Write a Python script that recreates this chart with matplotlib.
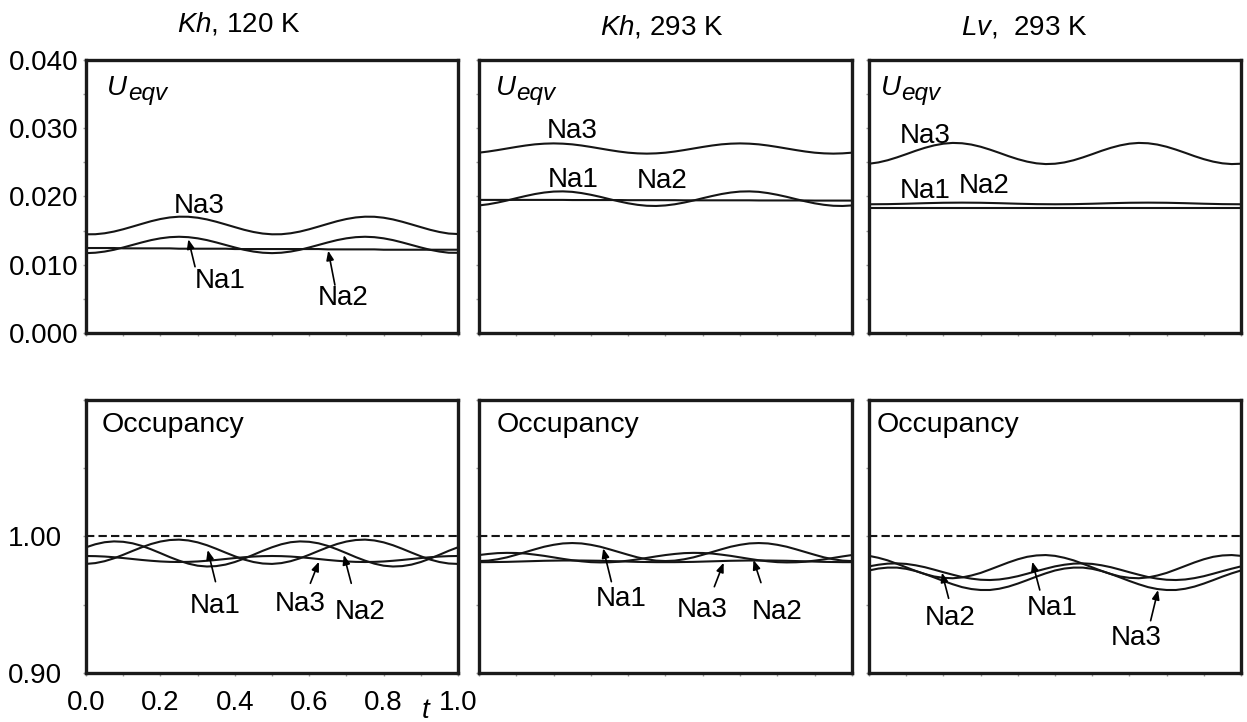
import matplotlib.pyplot as plt

plt.rcParams["font.family"] = ["Liberation Sans", "DejaVu Sans"]
plt.rcParams["mathtext.fontset"] = "custom"
plt.rcParams["mathtext.it"] = "Liberation Sans:italic"
plt.rcParams["mathtext.rm"] = "Liberation Sans"

# reduced time t over one cycle
T = [0.000, 0.025, 0.050, 0.075, 0.100, 0.125, 0.150, 0.175, 0.200, 0.225,
     0.250, 0.275, 0.300, 0.325, 0.350, 0.375, 0.400, 0.425, 0.450, 0.475,
     0.500, 0.525, 0.550, 0.575, 0.600, 0.625, 0.650, 0.675, 0.700, 0.725,
     0.750, 0.775, 0.800, 0.825, 0.850, 0.875, 0.900, 0.925, 0.950, 0.975, 1.000]

# U_eqv, Kh 120 K
KH120_U_NA1 = [0.01170, 0.01176, 0.01193, 0.01219, 0.01253, 0.01290, 0.01327, 0.01361, 0.01387, 0.01404,
               0.01410, 0.01404, 0.01387, 0.01361, 0.01327, 0.01290, 0.01253, 0.01219, 0.01193, 0.01176,
               0.01170, 0.01176, 0.01193, 0.01219, 0.01253, 0.01290, 0.01327, 0.01361, 0.01387, 0.01404,
               0.01410, 0.01404, 0.01387, 0.01361, 0.01327, 0.01290, 0.01253, 0.01219, 0.01193, 0.01176, 0.01175]
KH120_U_NA2 = [0.01245, 0.01245, 0.01245, 0.01245, 0.01240, 0.01240, 0.01240, 0.01240, 0.01240, 0.01240,
               0.01235, 0.01235, 0.01235, 0.01235, 0.01235, 0.01235, 0.01230, 0.01230, 0.01230, 0.01230,
               0.01230, 0.01230, 0.01230, 0.01230, 0.01230, 0.01230, 0.01225, 0.01225, 0.01225, 0.01225,
               0.01225, 0.01225, 0.01220, 0.01220, 0.01220, 0.01220, 0.01220, 0.01220, 0.01220, 0.01220, 0.01220]
KH120_U_NA3 = [0.01446, 0.01447, 0.01461, 0.01486, 0.01520, 0.01559, 0.01599, 0.01638, 0.01670, 0.01693,
               0.01704, 0.01703, 0.01689, 0.01664, 0.01630, 0.01591, 0.01551, 0.01512, 0.01480, 0.01457,
               0.01446, 0.01447, 0.01461, 0.01486, 0.01520, 0.01559, 0.01599, 0.01638, 0.01670, 0.01693,
               0.01704, 0.01703, 0.01689, 0.01664, 0.01630, 0.01591, 0.01551, 0.01512, 0.01480, 0.01457, 0.01450]

# U_eqv, Kh 293 K
KH293_U_NA1 = [0.01869, 0.01886, 0.01911, 0.01941, 0.01975, 0.02007, 0.02036, 0.02058, 0.02072, 0.02075,
               0.02068, 0.02050, 0.02025, 0.01995, 0.01961, 0.01929, 0.01900, 0.01878, 0.01864, 0.01861,
               0.01869, 0.01886, 0.01911, 0.01941, 0.01975, 0.02007, 0.02036, 0.02058, 0.02072, 0.02075,
               0.02068, 0.02050, 0.02025, 0.01995, 0.01961, 0.01929, 0.01900, 0.01878, 0.01864, 0.01861, 0.01869]
KH293_U_NA2 = [0.01950, 0.01950, 0.01950, 0.01950, 0.01950, 0.01950, 0.01950, 0.01950, 0.01950, 0.01950,
               0.01948, 0.01948, 0.01948, 0.01948, 0.01948, 0.01948, 0.01946, 0.01946, 0.01946, 0.01946,
               0.01946, 0.01946, 0.01944, 0.01944, 0.01944, 0.01944, 0.01944, 0.01944, 0.01944, 0.01944,
               0.01942, 0.01942, 0.01942, 0.01942, 0.01942, 0.01942, 0.01940, 0.01940, 0.01940, 0.01940, 0.01940]
KH293_U_NA3 = [0.02642, 0.02659, 0.02680, 0.02703, 0.02726, 0.02747, 0.02764, 0.02774, 0.02778, 0.02774,
               0.02764, 0.02747, 0.02726, 0.02703, 0.02680, 0.02659, 0.02642, 0.02632, 0.02628, 0.02632,
               0.02642, 0.02659, 0.02680, 0.02703, 0.02726, 0.02747, 0.02764, 0.02774, 0.02778, 0.02774,
               0.02764, 0.02747, 0.02726, 0.02703, 0.02680, 0.02659, 0.02642, 0.02632, 0.02628, 0.02632, 0.02642]

# U_eqv, Lv 293 K
LV293_U_NA1 = [0.01886, 0.01887, 0.01888, 0.01891, 0.01894, 0.01898, 0.01902, 0.01905, 0.01908, 0.01909,
               0.01910, 0.01909, 0.01908, 0.01905, 0.01902, 0.01898, 0.01894, 0.01891, 0.01888, 0.01887,
               0.01886, 0.01887, 0.01888, 0.01891, 0.01894, 0.01898, 0.01902, 0.01905, 0.01908, 0.01909,
               0.01910, 0.01909, 0.01908, 0.01905, 0.01902, 0.01898, 0.01894, 0.01891, 0.01888, 0.01887, 0.01886]
LV293_U_NA2 = [0.0183, 0.0183, 0.0183, 0.0183, 0.0183, 0.0183, 0.0183, 0.0183, 0.0183, 0.0183,
               0.0183, 0.0183, 0.0183, 0.0183, 0.0183, 0.0183, 0.0183, 0.0183, 0.0183, 0.0183,
               0.0183, 0.0183, 0.0183, 0.0183, 0.0183, 0.0183, 0.0183, 0.0183, 0.0183, 0.0183,
               0.0183, 0.0183, 0.0183, 0.0183, 0.0183, 0.0183, 0.0183, 0.0183, 0.0183, 0.0183, 0.0183]
LV293_U_NA3 = [0.02480, 0.02499, 0.02531, 0.02573, 0.02620, 0.02669, 0.02713, 0.02749, 0.02774, 0.02785,
               0.02780, 0.02761, 0.02729, 0.02687, 0.02640, 0.02591, 0.02547, 0.02511, 0.02486, 0.02475,
               0.02480, 0.02499, 0.02531, 0.02573, 0.02620, 0.02669, 0.02713, 0.02749, 0.02774, 0.02785,
               0.02780, 0.02761, 0.02729, 0.02687, 0.02640, 0.02591, 0.02547, 0.02511, 0.02486, 0.02475, 0.02480]

# occupancy, Kh 120 K
KH120_OCC_NA1 = [0.9799, 0.9805, 0.9819, 0.9840, 0.9866, 0.9894, 0.9921, 0.9945, 0.9963, 0.9974,
                 0.9977, 0.9971, 0.9957, 0.9936, 0.9910, 0.9882, 0.9855, 0.9831, 0.9813, 0.9802,
                 0.9799, 0.9805, 0.9819, 0.9840, 0.9866, 0.9894, 0.9921, 0.9945, 0.9963, 0.9974,
                 0.9977, 0.9971, 0.9957, 0.9936, 0.9910, 0.9882, 0.9855, 0.9831, 0.9813, 0.9802, 0.9799]
KH120_OCC_NA2 = [0.9921, 0.9943, 0.9958, 0.9964, 0.9961, 0.9950, 0.9931, 0.9906, 0.9878, 0.9849,
                 0.9823, 0.9801, 0.9786, 0.9780, 0.9783, 0.9794, 0.9813, 0.9838, 0.9866, 0.9895,
                 0.9921, 0.9943, 0.9958, 0.9964, 0.9961, 0.9950, 0.9931, 0.9906, 0.9878, 0.9849,
                 0.9823, 0.9801, 0.9786, 0.9780, 0.9783, 0.9794, 0.9813, 0.9838, 0.9866, 0.9895, 0.9921]
KH120_OCC_NA3 = [0.9857, 0.9856, 0.9853, 0.9848, 0.9842, 0.9835, 0.9828, 0.9822, 0.9817, 0.9814,
                 0.9813, 0.9814, 0.9817, 0.9822, 0.9828, 0.9835, 0.9842, 0.9848, 0.9853, 0.9856,
                 0.9857, 0.9856, 0.9853, 0.9848, 0.9842, 0.9835, 0.9828, 0.9822, 0.9817, 0.9814,
                 0.9813, 0.9814, 0.9817, 0.9822, 0.9828, 0.9835, 0.9842, 0.9848, 0.9853, 0.9856, 0.9857]

# occupancy, Kh 293 K
KH293_OCC_NA1 = [0.9820, 0.9823, 0.9833, 0.9847, 0.9866, 0.9886, 0.9906, 0.9925, 0.9939, 0.9949,
                 0.9952, 0.9949, 0.9939, 0.9925, 0.9906, 0.9886, 0.9866, 0.9847, 0.9833, 0.9823,
                 0.9820, 0.9823, 0.9833, 0.9847, 0.9866, 0.9886, 0.9906, 0.9925, 0.9939, 0.9949,
                 0.9952, 0.9949, 0.9939, 0.9925, 0.9906, 0.9886, 0.9866, 0.9847, 0.9833, 0.9823, 0.9820]
KH293_OCC_NA2 = [0.9864, 0.9872, 0.9878, 0.9880, 0.9879, 0.9875, 0.9867, 0.9858, 0.9847, 0.9836,
                 0.9826, 0.9818, 0.9812, 0.9810, 0.9811, 0.9815, 0.9823, 0.9832, 0.9843, 0.9854,
                 0.9864, 0.9872, 0.9878, 0.9880, 0.9879, 0.9875, 0.9867, 0.9858, 0.9847, 0.9836,
                 0.9826, 0.9818, 0.9812, 0.9810, 0.9811, 0.9815, 0.9823, 0.9832, 0.9843, 0.9854, 0.9864]
KH293_OCC_NA3 = [0.9812, 0.9812, 0.9813, 0.9814, 0.9816, 0.9818, 0.9820, 0.9822, 0.9823, 0.9824,
                 0.9824, 0.9824, 0.9823, 0.9822, 0.9820, 0.9818, 0.9816, 0.9814, 0.9813, 0.9812,
                 0.9812, 0.9812, 0.9813, 0.9814, 0.9816, 0.9818, 0.9820, 0.9822, 0.9823, 0.9824,
                 0.9824, 0.9824, 0.9823, 0.9822, 0.9820, 0.9818, 0.9816, 0.9814, 0.9813, 0.9812, 0.9812]

# occupancy, Lv 293 K
LV293_OCC_NA1 = [0.9858, 0.9844, 0.9825, 0.9800, 0.9774, 0.9748, 0.9725, 0.9707, 0.9697, 0.9694,
                 0.9700, 0.9714, 0.9733, 0.9758, 0.9784, 0.9810, 0.9833, 0.9851, 0.9861, 0.9864,
                 0.9858, 0.9844, 0.9825, 0.9800, 0.9774, 0.9748, 0.9725, 0.9707, 0.9697, 0.9694,
                 0.9700, 0.9714, 0.9733, 0.9758, 0.9784, 0.9810, 0.9833, 0.9851, 0.9861, 0.9864, 0.9858]
LV293_OCC_NA2 = [0.9781, 0.9793, 0.9801, 0.9803, 0.9799, 0.9789, 0.9775, 0.9757, 0.9738, 0.9720,
                 0.9703, 0.9691, 0.9683, 0.9681, 0.9685, 0.9695, 0.9709, 0.9727, 0.9746, 0.9764,
                 0.9781, 0.9793, 0.9801, 0.9803, 0.9799, 0.9789, 0.9775, 0.9757, 0.9738, 0.9720,
                 0.9703, 0.9691, 0.9683, 0.9681, 0.9685, 0.9695, 0.9709, 0.9727, 0.9746, 0.9764, 0.9781]
LV293_OCC_NA3 = [0.9751, 0.9765, 0.9772, 0.9772, 0.9763, 0.9747, 0.9725, 0.9700, 0.9674, 0.9650,
                 0.9629, 0.9615, 0.9608, 0.9608, 0.9617, 0.9633, 0.9655, 0.9680, 0.9706, 0.9730,
                 0.9751, 0.9765, 0.9772, 0.9772, 0.9763, 0.9747, 0.9725, 0.9700, 0.9674, 0.9650,
                 0.9629, 0.9615, 0.9608, 0.9608, 0.9617, 0.9633, 0.9655, 0.9680, 0.9706, 0.9730, 0.9751]

TITLES = [r"$\mathit{Kh}$, 120 K", r"$\mathit{Kh}$, 293 K", r"$\mathit{Lv}$,  293 K"]
X_TICKS = [0.0, 0.1, 0.2, 0.3, 0.4, 0.5, 0.6, 0.7, 0.8, 0.9, 1.0]
X_TICK_LABELS = ["0.0", "", "0.2", "", "0.4", "", "0.6", "", "0.8", "", "1.0"]
U_TICKS = [0.000, 0.005, 0.010, 0.015, 0.020, 0.025, 0.030, 0.035, 0.040]
U_TICK_LABELS = ["0.000", "", "0.010", "", "0.020", "", "0.030", "", "0.040"]
OCC_TICKS = [0.90, 0.95, 1.00, 1.05, 1.10]
OCC_TICK_LABELS = ["0.90", "", "1.00", "", ""]
FULL_OCCUPANCY = 1.0

u_series = [
    (KH120_U_NA1, KH120_U_NA2, KH120_U_NA3),
    (KH293_U_NA1, KH293_U_NA2, KH293_U_NA3),
    (LV293_U_NA1, LV293_U_NA2, LV293_U_NA3),
]
occ_series = [
    (KH120_OCC_NA1, KH120_OCC_NA2, KH120_OCC_NA3),
    (KH293_OCC_NA1, KH293_OCC_NA2, KH293_OCC_NA3),
    (LV293_OCC_NA1, LV293_OCC_NA2, LV293_OCC_NA3),
]

# curve labels: text, text anchor, optional arrow (tail, tip) in data coords
u_labels = [
    [("Na3", (0.305, 0.01754), None),
     ("Na1", (0.36, 0.00655), ((0.293, 0.00971), (0.275, 0.01373))),
     ("Na2", (0.691, 0.0041), ((0.669, 0.00703), (0.651, 0.01206)))],
    [("Na3", (0.251, 0.02853), None),
     ("Na1", (0.253, 0.02144), None),
     ("Na2", (0.49, 0.0212), None)],
    [("Na3", (0.15, 0.0278), None),
     ("Na1", (0.152, 0.01973), None),
     ("Na2", (0.309, 0.02047), None)],
]
occ_labels = [
    [("Na1", (0.346, 0.9442), ((0.348, 0.9669), (0.327, 0.9901))),
     ("Na3", (0.577, 0.9457), ((0.603, 0.9657), (0.626, 0.9815))),
     ("Na2", (0.737, 0.9393), ((0.713, 0.9657), (0.693, 0.9864)))],
    [("Na1", (0.38, 0.949), ((0.355, 0.9669), (0.333, 0.9913))),
     ("Na3", (0.599, 0.9413), ((0.631, 0.9632), (0.656, 0.9808))),
     ("Na2", (0.80, 0.9393), ((0.756, 0.9662), (0.736, 0.9828)))],
    [("Na2", (0.217, 0.9352), ((0.214, 0.9547), (0.196, 0.9735))),
     ("Na1", (0.492, 0.9425), ((0.459, 0.9608), (0.439, 0.9815))),
     ("Na3", (0.719, 0.9205), ((0.757, 0.9383), (0.777, 0.9608)))],
]

LINE = "#151515"
TICK = "#9a9a9a"
FS = 20

fig = plt.figure(figsize=(12.47, 7.22), dpi=100)
lefts = [0.0690, 0.3841, 0.6969]
widths = [0.2983, 0.2991, 0.2983]
u_name_x = [0.056, 0.045, 0.031]
occ_name_x = [0.042, 0.048, 0.021]
title_x = [0.1915, 0.5306, 0.8212]


def style_axes(ax):
    for sp in ax.spines.values():
        sp.set_linewidth(2.4)
        sp.set_color("#1a1a1a")
    ax.set_xlim(0, 1)
    ax.set_xticks(X_TICKS)
    ax.tick_params(axis="both", which="major", direction="out", length=2.5,
                   width=1, color=TICK, labelsize=FS)


def add_labels(ax, labels):
    for text, (tx, ty), arrow in labels:
        ax.text(tx, ty, text, ha="center", va="baseline", fontsize=FS)
        if arrow is not None:
            (x0, y0), (x1, y1) = arrow
            ax.annotate("", xy=(x1, y1), xytext=(x0, y0),
                        arrowprops=dict(arrowstyle="-|>,head_length=0.55,head_width=0.22",
                                        mutation_scale=10, lw=1.2, color="black",
                                        shrinkA=0, shrinkB=0))


for i in range(3):
    # U_eqv row
    ax = fig.add_axes([lefts[i], 0.5388, widths[i], 0.3781])
    style_axes(ax)
    for s in u_series[i]:
        ax.plot(T, s, color=LINE, lw=1.5)
    ax.set_ylim(0, 0.04)
    ax.set_yticks(U_TICKS)
    ax.set_yticklabels(U_TICK_LABELS if i == 0 else [""] * len(U_TICKS))
    ax.set_xticklabels([""] * len(X_TICKS))
    ax.tick_params(axis="y", pad=3)
    ax.text(u_name_x[i], 0.872, "U", transform=ax.transAxes, fontsize=FS,
            style="italic", va="baseline")
    ax.annotate("eqv", xy=(u_name_x[i], 0.872), xycoords="axes fraction",
                xytext=(15, -3.8), textcoords="offset points", fontsize=17.5,
                style="italic", va="baseline")
    add_labels(ax, u_labels[i])
    fig.text(title_x[i], 0.9525 if i else 0.956, TITLES[i], ha="center",
             va="baseline", fontsize=FS)

    # occupancy row
    ax = fig.add_axes([lefts[i], 0.0679, widths[i], 0.3781])
    style_axes(ax)
    ax.axhline(FULL_OCCUPANCY, color=LINE, lw=1.5, ls=(0, (4, 2)))
    for s in occ_series[i]:
        ax.plot(T, s, color=LINE, lw=1.5)
    ax.set_ylim(0.90, 1.10)
    ax.set_yticks(OCC_TICKS)
    ax.set_yticklabels(OCC_TICK_LABELS if i == 0 else [""] * len(OCC_TICKS))
    ax.set_xticklabels(X_TICK_LABELS if i == 0 else [""] * len(X_TICKS))
    ax.tick_params(axis="y", pad=15)
    ax.tick_params(axis="x", pad=10)
    ax.text(occ_name_x[i], 0.884, "Occupancy", transform=ax.transAxes,
            fontsize=20.5, va="baseline")
    add_labels(ax, occ_labels[i])
    if i == 0:
        ax.text(0.914, -0.165, "t", transform=ax.transAxes, fontsize=FS,
                style="italic", ha="center", va="baseline")

fig.savefig("out.png", dpi=100)
